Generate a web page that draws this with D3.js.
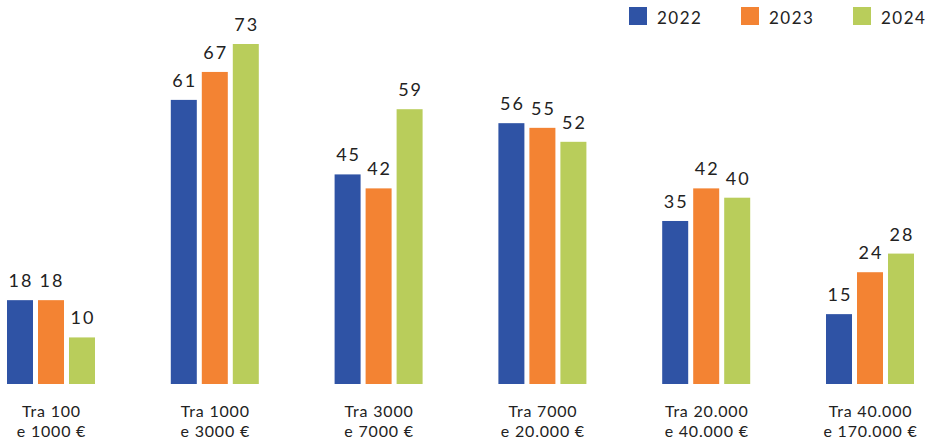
<!DOCTYPE html>
<html><head><meta charset="utf-8">
<script src="https://cdn.jsdelivr.net/npm/d3@7"></script>
<style>body{margin:0;background:#fff}svg{display:block}text{font-family:Lato,"Open Sans",sans-serif;fill:#222}</style>
</head><body><svg id="c" width="939" height="440"></svg>
<script>
const categories = [["Tra 100","e 1000 €"],["Tra 1000","e 3000 €"],["Tra 3000","e 7000 €"],["Tra 7000","e 20.000 €"],["Tra 20.000","e 40.000 €"],["Tra 40.000","e 170.000 €"]];
const series = ["2022","2023","2024"];
const values2022 = [18,61,45,56,35,15];
const values2023 = [18,67,42,55,42,24];
const values2024 = [10,73,59,52,40,28];
const colors = ["#2f53a5","#f38333","#b9cd5b"];
const allValues = [values2022, values2023, values2024];

const svg = d3.select("#c");
const x0 = d3.scalePoint().domain(d3.range(categories.length)).range([51, 870]);
const x1 = d3.scaleBand().domain(series).range([-46.5, 46.5]).paddingInner(5/31).paddingOuter(0.0806);
const y = d3.scaleLinear().domain([0, 73]).range([384, 44]);

const g = svg.append("g");
series.forEach((s, si) => {
  const vals = allValues[si];
  g.selectAll(null).data(vals).enter().append("rect")
    .attr("x", (d,i) => x0(i) + x1(s))
    .attr("y", d => y(d))
    .attr("width", x1.bandwidth())
    .attr("height", d => y(0) - y(d))
    .attr("fill", colors[si]);
  g.selectAll(null).data(vals).enter().append("text")
    .attr("x", (d,i) => x0(i) + x1(s) + x1.bandwidth()/2 + 1)
    .attr("y", d => y(d) - 13)
    .attr("text-anchor", "middle")
    .attr("font-size", 18)
    .attr("letter-spacing", 2)
    .text(d => d);
});

categories.forEach((c, i) => {
  c.forEach((line, li) => {
    svg.append("text").attr("x", x0(i) + 0.5).attr("y", 417 + li*20)
      .attr("text-anchor","middle").attr("font-size",16).attr("letter-spacing",0.8).text(line);
  });
});

const legX = [629, 741, 853];
series.forEach((s, si) => {
  svg.append("rect").attr("x", legX[si]).attr("y", 7).attr("width", 18).attr("height", 18).attr("fill", colors[si]);
  svg.append("text").attr("x", legX[si] + 28).attr("y", 24).attr("font-size", 17).attr("letter-spacing", 1.5).text(s);
});
</script></body></html>
